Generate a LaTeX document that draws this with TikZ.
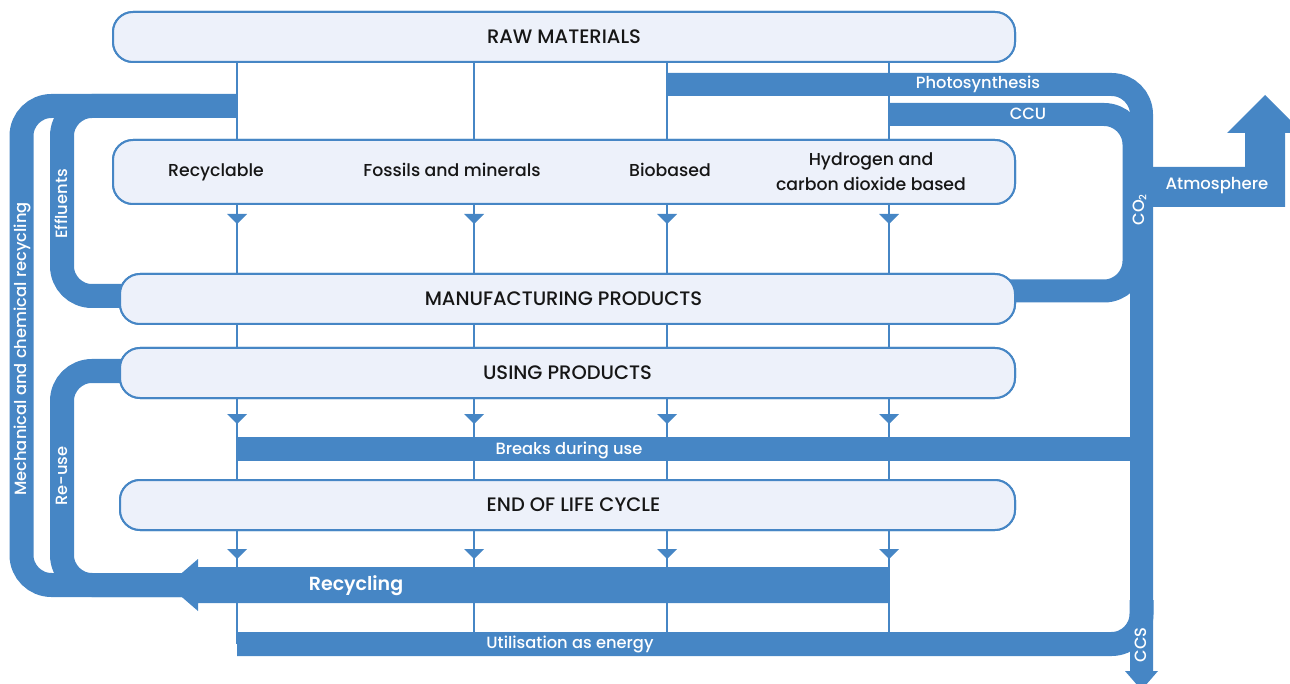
\documentclass[tikz,border=0pt]{standalone}
\usepackage{fontspec}
\setmainfont{Poppins}[UprightFont=* Medium, BoldFont=* SemiBold]
\usetikzlibrary{calc}
\definecolor{flow}{HTML}{4686C5}
\definecolor{boxfill}{HTML}{EDF1FA}
\definecolor{ink}{HTML}{161616}
\begin{document}
\begin{tikzpicture}[x=1pt,y=-1pt,
  box/.style={draw=flow, line width=2pt, fill=boxfill, rounded corners=20pt, inner sep=0pt, text=ink, font=\fontsize{19.5}{23}\selectfont},
  boxtxt/.style={text=ink, inner sep=0pt, align=center, font=\fontsize{17.3}{25}\selectfont},
  conn/.style={draw=flow, line width=2pt},
  band/.style={draw=flow, line width=24pt, rounded corners=30pt},
  lbl/.style={text=white, inner sep=0pt, text height=11pt, text depth=3pt, font=\fontsize{16.3}{19}\selectfont},
  tri/.style={fill=flow}
]
\useasboundingbox (0,0) rectangle (1290,684);
\clip (0,0) rectangle (1290,684);

% column positions
\coordinate (c1) at (237,0);
\coordinate (c2) at (474,0);
\coordinate (c3) at (667,0);
\coordinate (c4) at (889,0);
\coordinate (util) at (0,644);

% boxes (as nodes, drawn later on top)
\path node[box, minimum width=902pt, minimum height=50pt] (raw) at (564,37) {}
      node[box, minimum width=902pt, minimum height=64pt] (cat) at (564,172) {}
      node[box, minimum width=895pt, minimum height=50pt] (man) at (567.5,299) {}
      node[box, minimum width=895pt, minimum height=50pt] (use) at (567.5,373) {}
      node[box, minimum width=895pt, minimum height=50pt] (eol) at (567.5,505) {};

% thin connectors
\foreach \c in {c1,c2,c3,c4}{
  \draw[conn] (raw.south -| \c) -- (cat.north -| \c);
  \draw[conn] (cat.south -| \c) -- (man.north -| \c);
  \draw[conn] (man.south -| \c) -- (use.north -| \c);
  \draw[conn] (use.south -| \c) -- (eol.north -| \c);
  \draw[conn] (eol.south -| \c) -- (util -| \c);
  \fill[tri] ($(cat.south -| \c)+(-10,9)$) -- ++(20,0) -- ++(-10,10) -- cycle;
  \fill[tri] ($(use.south -| \c)+(-10,15)$) -- ++(20,0) -- ++(-10,10) -- cycle;
  \fill[tri] ($(eol.south -| \c)+(-10,18)$) -- ++(20,0) -- ++(-10,10) -- cycle;
}

% left loops
\draw[band] (190,585) -- (21.5,585) -- (21.5,106) -- (237,106);
\draw[band] (125,296) -- (62,296) -- (62,106) -- (200,106);
\draw[band] (125,371) -- (62,371) -- (62,585) -- (190,585);

% recycling arrow
\fill[flow] (889,567) -- (198,567) -- (198,559) -- (168,585) -- (198,611) -- (198,603) -- (889,603) -- cycle;

% breaks during use, utilisation
\draw[band] (c1 |- 0,449) -- (1141.5,449);
\draw[band] (c1 |- util) -- (1141.5,644) -- (1141.5,600);

% CCU loop
\draw[band, line width=23pt] (c4 |- 0,114.5) -- (1134,114.5) -- (1134,291) -- (1000,291);
% photosynthesis + trunk
\draw[band, line width=23pt] (c3 |- 0,84.5) -- (1141.5,84.5) -- (1141.5,672);
\fill[flow] (1125,671) -- (1158,671) -- (1141.5,690) -- cycle;
% atmosphere
\fill[flow] (1145,167) -- (1245,167) -- (1245,133) -- (1227,133) -- (1265,95) -- (1303,133) -- (1285,133) -- (1285,207) -- (1145,207) -- cycle;

% redraw boxes on top
\path node[box, minimum width=902pt, minimum height=50pt] at (raw) {RAW MATERIALS}
      node[box, minimum width=902pt, minimum height=64pt] at (cat) {}
      node[box, minimum width=895pt, minimum height=50pt] at (man.center) {\hspace*{-8pt}MANUFACTURING PRODUCTS}
      node[box, minimum width=895pt, minimum height=50pt] at (use) {USING PRODUCTS}
      node[box, minimum width=895pt, minimum height=50pt] at (eol) {\hspace*{12pt}END OF LIFE CYCLE};

\node[boxtxt, anchor=base] (t1) at (216,177) {Recyclable};
\node[boxtxt, anchor=base] (t2) at (452,177) {Fossils and minerals};
\node[boxtxt, anchor=base] (t3) at (670,177) {Biobased};
\node[boxtxt] (t4) at (871,171.5) {Hydrogen and\\carbon dioxide based};

% labels
\node[lbl] (lp) at (978,85) {Photosynthesis};
\node[lbl] (lc) at (1028,116) {CCU};
\node[lbl, font=\fontsize{16.5}{20}\selectfont] (la) at (1217,186) {Atmosphere};
\node[lbl, rotate=90] (lco) at (1140,210) {CO\raisebox{-0.25ex}{\fontsize{10}{12}\selectfont 2}};
\node[lbl, rotate=90] (lccs) at (1142,645) {CCS};
\node[lbl] (lb) at (569,450) {Breaks during use};
\node[lbl, font=\fontsize{19}{22}\selectfont\bfseries] (lr) at (356,586) {Recycling};
\node[lbl] (lu) at (570,644) {Utilisation as energy};
\node[lbl, rotate=90] (lm) at (23,349) {Mechanical and chemical recycling};
\node[lbl, rotate=90] (le) at (63,204) {Effluents};
\node[lbl, rotate=90] (lre) at (63,476) {Re-use};
\end{tikzpicture}
\end{document}
